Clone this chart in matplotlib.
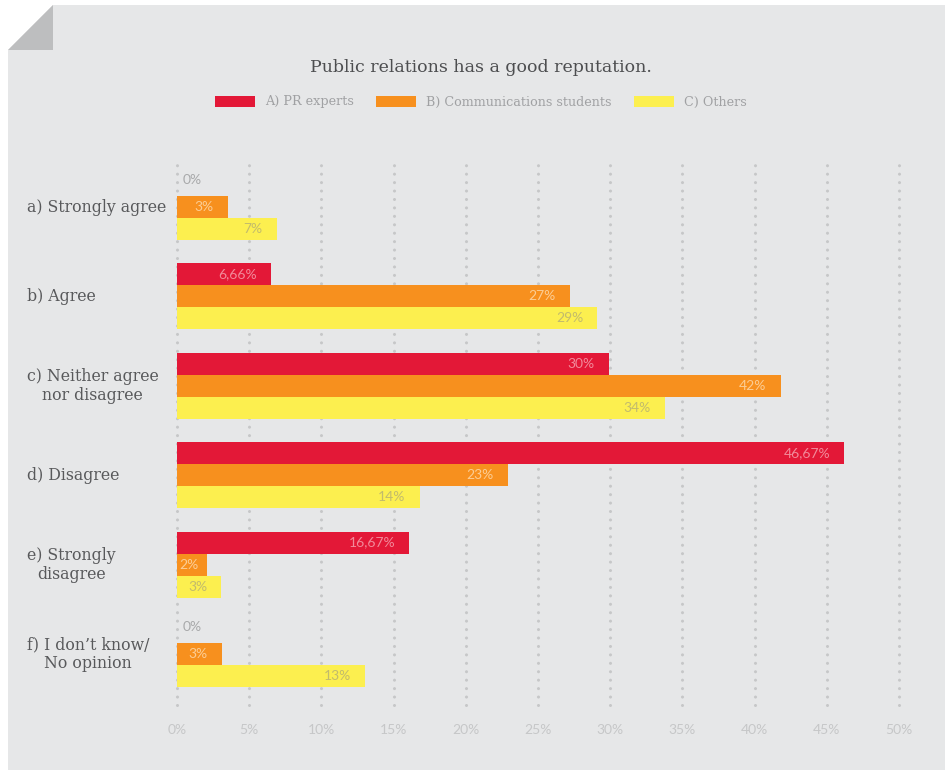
import matplotlib.pyplot as plt
import matplotlib.transforms as mtransforms
from matplotlib.patches import Polygon, Patch

categories = ["a) Strongly agree", "b) Agree", "c) Neither agree\nnor disagree",
              "d) Disagree", "e) Strongly\ndisagree", "f) I don\u2019t know/\nNo opinion"]
series = ["A) PR experts", "B) Communications students", "C) Others"]
pr_experts = [0, 6.5, 29.9, 46.2, 16.1, 0]
students = [3.5, 27.2, 41.8, 22.9, 2.1, 3.1]
others = [6.9, 29.1, 33.8, 16.8, 3.05, 13.0]
pr_labels = ["0%", "6,66%", "30%", "46,67%", "16,67%", "0%"]
students_labels = ["3%", "27%", "42%", "23%", "2%", "3%"]
others_labels = ["7%", "29%", "34%", "14%", "3%", "13%"]
ticks = [0, 5, 10, 15, 20, 25, 30, 35, 40, 45, 50]

colors = ["#e31837", "#f7901e", "#fcef4f"]
text_colors = ["#f28a9a", "#fccd94", "#c2bb6c"]
bg = "#e6e7e8"

W, H = 946, 771
fig = plt.figure(figsize=(W / 100, H / 100), dpi=100)
fig.patch.set_facecolor("white")

def fx(px):
    return px / W

def fy(py):
    return 1 - py / H

# card with folded corner
card = Polygon([(fx(8), fy(50)), (fx(53), fy(5)), (fx(945), fy(5)),
                (fx(945), fy(770)), (fx(8), fy(770))],
               closed=True, transform=fig.transFigure, facecolor=bg, edgecolor="none",
               zorder=-5)
fold = Polygon([(fx(8), fy(50)), (fx(53), fy(5)), (fx(53), fy(50))],
               closed=True, transform=fig.transFigure, facecolor="#bdbebf", edgecolor="none",
               zorder=-4)
fig.patches.extend([card, fold])

ax = fig.add_axes([fx(177), fy(705), fx(899) - fx(177), fy(165) - fy(705)])
ax.set_facecolor("none")
ax.set_zorder(2)
ax.set_xlim(0, 50)
ax.set_ylim(5.57, -0.47)
for s in ax.spines.values():
    s.set_visible(False)

for t in ticks:
    ax.axvline(t, color="#c6c7c8", linewidth=2.2, linestyle=(0, (0.01, 2.75)),
               dash_capstyle="round", zorder=1, clip_on=False)

h = 0.246
offsets = [-h, 0, h]
all_vals = [pr_experts, students, others]
all_labels = [pr_labels, students_labels, others_labels]
pad = 14 / 14.44
for k in range(3):
    ys = [i + offsets[k] for i in range(len(categories))]
    ax.barh(ys, all_vals[k], height=h, color=colors[k], zorder=2, label=series[k])
    for y, v, lab in zip(ys, all_vals[k], all_labels[k]):
        if v == 0:
            ax.text(0.4, y - 0.06, lab, ha="left", va="center", fontsize=10,
                    family="Lato", color="#a8a9aa", zorder=3)
        else:
            x = max(v - pad, 1.5)
            ax.text(x, y, lab, ha="right", va="center", fontsize=10,
                    family="Lato", color=text_colors[k], zorder=3)

ax.set_yticks([])
ax.set_xticks(ticks)
ax.set_xticklabels([f"{t}%" for t in ticks], family="Lato", fontsize=10, color="#c6c7c8")
ax.tick_params(axis="x", length=0, pad=14)

trans = mtransforms.blended_transform_factory(fig.transFigure, ax.transData)
for i, cat in enumerate(categories):
    ax.text(fx(27), i, cat, transform=trans, ha="left", va="center",
            multialignment="center", family="DejaVu Serif", fontsize=11.3,
            color="#58595b", linespacing=1.15)

fig.text(0.508, fy(67), "Public relations has a good reputation.", ha="center", va="center",
         family="DejaVu Serif", fontsize=12.5, color="#4d4e50")

handles = [Patch(facecolor=c, edgecolor="none") for c in colors]
fig.legend(handles, series, loc="center", bbox_to_anchor=(fx(481), fy(102)), ncol=3,
           frameon=False, handlelength=3.1, handleheight=0.95, handletextpad=0.8,
           columnspacing=1.75, prop={"family": "DejaVu Serif", "size": 9.2},
           labelcolor="#a0a1a3")

fig.savefig("out.png", dpi=100, facecolor=fig.get_facecolor())
